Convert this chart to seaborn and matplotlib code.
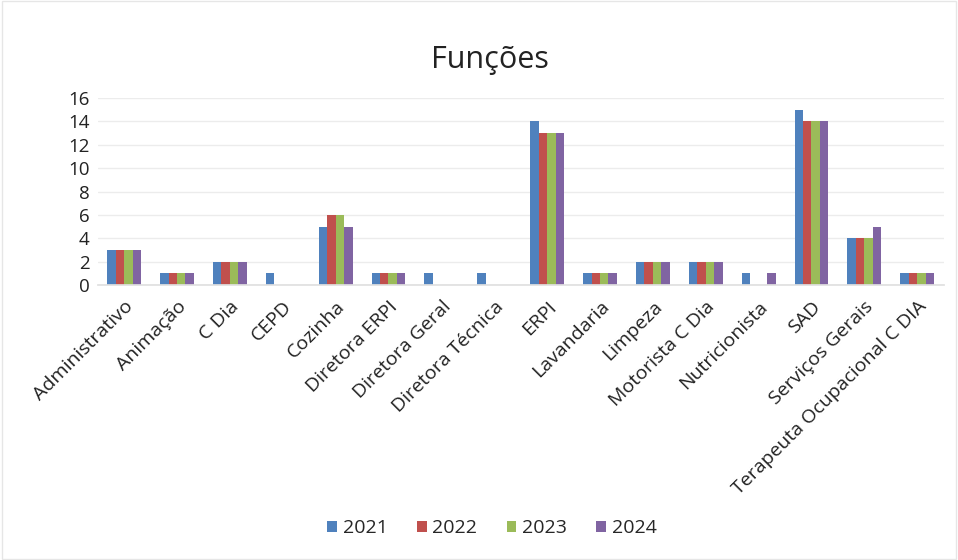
import matplotlib
matplotlib.use("Agg")
import matplotlib.pyplot as plt
import seaborn as sns
import pandas as pd

categories = ["Administrativo", "Animação", "C Dia", "CEPD", "Cozinha", "Diretora ERPI",
              "Diretora Geral", "Diretora Técnica", "ERPI", "Lavandaria", "Limpeza",
              "Motorista C Dia", "Nutricionista", "SAD", "Serviços Gerais",
              "Terapeuta Ocupacional C DIA"]
years = ["2021", "2022", "2023", "2024"]
v2021 = [3, 1, 2, 1, 5, 1, 1, 1, 14, 1, 2, 2, 1, 15, 4, 1]
v2022 = [3, 1, 2, 0, 6, 1, 0, 0, 13, 1, 2, 2, 0, 14, 4, 1]
v2023 = [3, 1, 2, 0, 6, 1, 0, 0, 13, 1, 2, 2, 0, 14, 4, 1]
v2024 = [3, 1, 2, 0, 5, 1, 0, 0, 13, 1, 2, 2, 1, 14, 5, 1]
colors = ["#4F81BD", "#C0504D", "#9BBB59", "#8064A2"]

rows = []
for y, vals in zip(years, [v2021, v2022, v2023, v2024]):
    for c, v in zip(categories, vals):
        rows.append({"Função": c, "Ano": y, "Valor": v})
df = pd.DataFrame(rows)

sns.set_theme(style="white")
plt.rcParams["font.family"] = ["Open Sans", "DejaVu Sans"]

fig = plt.figure(figsize=(9.58, 5.6), dpi=100)
ax = fig.add_axes([0.102, 0.491, 0.883, 0.334])
sns.barplot(data=df, x="Função", y="Valor", hue="Ano", palette=colors,
            order=categories, hue_order=years, width=0.64, ax=ax,
            saturation=1, legend=True, linewidth=0, gap=0)

ax.set_ylim(0, 16)
ax.set_yticks(range(0, 17, 2))
ax.yaxis.grid(True, color="#ececec", linewidth=1)
ax.set_axisbelow(True)
for s in ["top", "right", "left"]:
    ax.spines[s].set_visible(False)
ax.spines["bottom"].set_color("#e0e0e0")
ax.set_xlabel("")
ax.set_ylabel("")
ax.tick_params(axis="y", labelsize=13.5, colors="#222222", length=0, pad=6)
ax.tick_params(axis="x", labelsize=14, colors="#222222", length=0, pad=9)
plt.setp(ax.get_xticklabels(), rotation=45, ha="right", rotation_mode="anchor")
ax.set_xlim(-0.5, len(categories) - 0.5)

fig.text(0.511, 0.892, "Funções", fontsize=22, color="#222222", ha="center", va="center")

ax.legend(loc="center", bbox_to_anchor=(0.466, -1.3), ncol=4, frameon=False,
          fontsize=14, handlelength=0.5, handleheight=0.5, handletextpad=0.3,
          columnspacing=1.5)

fig.patches.append(plt.Rectangle((0.002, 0.002), 0.996, 0.996, transform=fig.transFigure,
                                 fill=False, edgecolor="#e6e6e6", linewidth=1))
fig.savefig("out.png", dpi=100, facecolor="white")
